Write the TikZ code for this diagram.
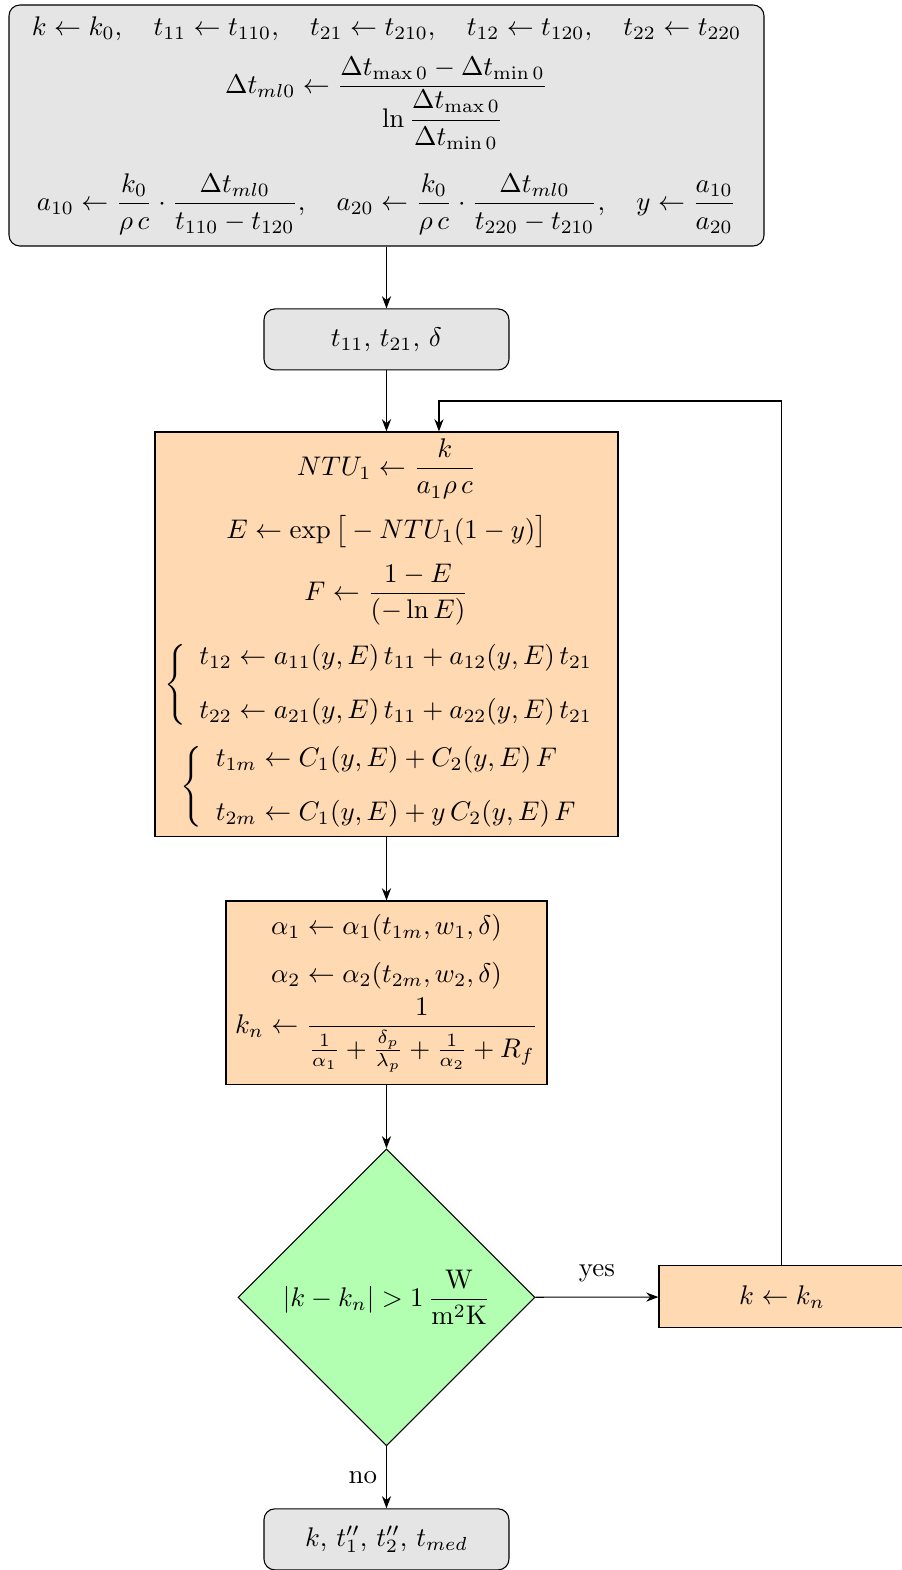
\documentclass[tikz,border=0pt]{standalone}
\usepackage{amsmath}
\usepackage{amssymb}
\usepackage{tikz}
\usetikzlibrary{arrows.meta, positioning, shapes.geometric, calc}

\begin{document}
\begin{tikzpicture}[
    io/.style={draw, rounded corners=4pt, fill=gray!20, align=center, inner sep=2pt},
    calcbox/.style={draw, fill=orange!30, align=center, inner sep=2pt},
    test/.style={draw, diamond, fill=green!30, aspect=1, inner sep=1pt, minimum width=3.876cm, minimum height=3.876cm},
    arrow/.style={-{Stealth[length=1.6mm, width=1.2mm]}},
]
    \useasboundingbox (0,0) rectangle (11.77,-20.49);
    \clip (0,0) rectangle (11.77,-20.49);

    % Start values
    \node[io, minimum width=9.853cm, minimum height=3.145cm] (init) at (5.044,-1.638) {$k \leftarrow k_0, \quad t_{11} \leftarrow t_{110}, \quad t_{21} \leftarrow t_{210}, \quad t_{12} \leftarrow t_{120}, \quad t_{22} \leftarrow t_{220}$\\[5pt]
        $\displaystyle \Delta t_{ml0} \leftarrow \frac{\Delta t_{\max 0} - \Delta t_{\min 0}}{\ln \dfrac{\Delta t_{\max 0}}{\Delta t_{\min 0}}}$\\[8pt]
        $\displaystyle a_{10} \leftarrow \frac{k_0}{\rho\, c} \cdot \frac{\Delta t_{ml0}}{t_{110} - t_{120}}, \quad a_{20} \leftarrow \frac{k_0}{\rho\, c} \cdot \frac{\Delta t_{ml0}}{t_{220} - t_{210}}, \quad y \leftarrow \frac{a_{10}}{a_{20}}$};

    \node[io, minimum width=3.197cm, minimum height=0.796cm] (input) at (5.044,-4.430) {$t_{11},\, t_{21},\, \delta$};

    % Temperatures
    \node[calcbox, minimum width=6.042cm, minimum height=5.285cm] (temps) at (5.044,-8.280) {$\displaystyle NTU_1 \leftarrow \frac{k}{a_1 \rho\, c}$\\[5pt]
        $\displaystyle E \leftarrow \exp\big[-NTU_1(1-y)\big]$\\[5pt]
        $\displaystyle F \leftarrow \frac{1-E}{(-\ln E)}$\\[5pt]
        $\left\{\begin{array}{l} t_{12} \leftarrow a_{11}(y,E)\, t_{11} + a_{12}(y,E)\, t_{21}\\[8pt] t_{22} \leftarrow a_{21}(y,E)\, t_{11} + a_{22}(y,E)\, t_{21}\end{array}\right.$\\[5pt]
        $\left\{\begin{array}{l} t_{1m} \leftarrow C_1(y,E) + C_2(y,E)\, F\\[8pt] t_{2m} \leftarrow C_1(y,E) + y\, C_2(y,E)\, F\end{array}\right.$};

    % Heat transfer
    \node[calcbox, minimum width=4.189cm, minimum height=2.401cm] (coef) at (5.044,-12.959) {$\alpha_1 \leftarrow \alpha_1(t_{1m}, w_1, \delta)$\\[6pt]
        $\alpha_2 \leftarrow \alpha_2(t_{2m}, w_2, \delta)$\\[2pt]
        $\displaystyle k_n \leftarrow \frac{1}{\frac{1}{\alpha_1} + \frac{\delta_p}{\lambda_p} + \frac{1}{\alpha_2} + R_f}$};

    \node[test] (check) at (5.044,-16.932) {$\displaystyle |k - k_n| > 1\, \frac{\mathrm{W}}{\mathrm{m^2K}}$};

    \node[calcbox, minimum width=3.210cm, minimum height=0.809cm] (update) at (10.205,-16.926) {$k \leftarrow k_n$};

    \node[io, minimum width=3.197cm, minimum height=0.796cm] (result) at (5.044,-20.090) {$k,\, t_1'',\, t_2'',\, t_{med}$};

    \coordinate (back) at (5.729,-5.233);

    % Arrows
    \draw[arrow] (init) -- (input);
    \draw[arrow] (input) -- (temps);
    \draw[arrow] (temps) -- (coef);
    \draw[arrow] (coef) -- (check);
    \draw[arrow] (check) -- node[above=2pt] {yes} (update);
    \draw[arrow] (check) -- node[left] {no} (result);
    \draw[arrow] (update.north) |- (back) -- (back |- temps.north);

\end{tikzpicture}
\end{document}
